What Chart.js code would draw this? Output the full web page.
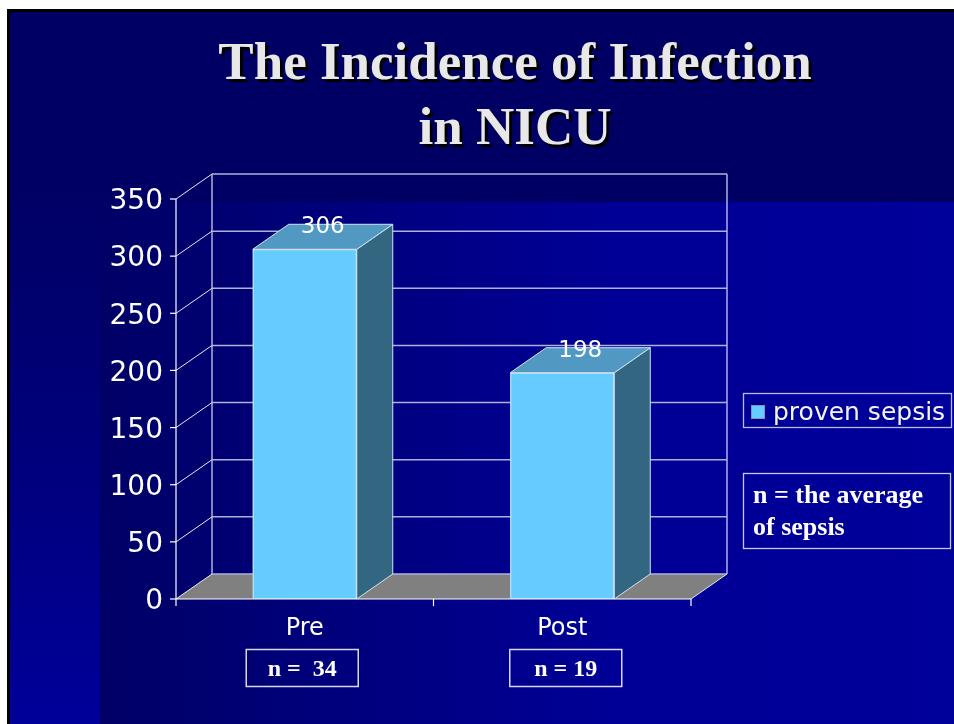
<!DOCTYPE html>
<html>
<head>
<meta charset="utf-8">
<script src="https://cdn.jsdelivr.net/npm/chart.js@4/dist/chart.umd.min.js"></script>
<style>
html,body{margin:0;padding:0;background:#ffffff;width:954px;height:724px;overflow:hidden}
#frame{position:absolute;left:7px;top:9px;width:947px;height:715px;background:#000000}
#navy{position:absolute;left:10px;top:12px;width:944px;height:712px;background:#000064}
#leftStrip{position:absolute;left:10px;top:202px;width:90px;height:522px;background:linear-gradient(to bottom,#000066 0%,#00007a 45%,#00009a 100%)}
#rightPanel{position:absolute;left:100px;top:202px;width:854px;height:522px;background:linear-gradient(to right,#000066 0%,#000096 60%,#00009a 100%)}
#wrap{position:absolute;left:0;top:0;width:954px;height:724px}
canvas{display:block}
</style>
</head>
<body>
<div id="frame"></div>
<div id="navy"></div>
<div id="leftStrip"></div>
<div id="rightPanel"></div>
<div id="wrap"><canvas id="c" width="954" height="724"></canvas></div>
<script>
// ---- data ----
const categories = ['Pre', 'Post'];
const provenSepsis = [306, 198];
const seriesLabel = 'proven sepsis';
const yTickValues = [0, 50, 100, 150, 200, 250, 300, 350];
const sampleSizeLabels = ['n =  34', 'n = 19'];
const titleLines = ['The Incidence of Infection', 'in NICU'];
const noteLines = ['n = the average', 'of sepsis'];

// ---- styles ----
const DX = 36, DY = -25;
const FRONT = '#66ccff', TOPC = '#5199c2', SIDE = '#336680', EDGE = '#d0e4f0';
const GRID = '#b0b0dc';
const SANS = '"DejaVu Sans", Verdana, sans-serif';
const SERIF = '"Liberation Serif", "Times New Roman", serif';
const BOX_SHIFT = [-2.5, 3.5];

function line(ctx, x1, y1, x2, y2) {
  ctx.beginPath(); ctx.moveTo(x1, y1); ctx.lineTo(x2, y2); ctx.stroke();
}
function poly(ctx, pts, fill, stroke) {
  ctx.beginPath();
  pts.forEach((p, i) => i ? ctx.lineTo(p[0], p[1]) : ctx.moveTo(p[0], p[1]));
  ctx.closePath();
  ctx.fillStyle = fill; ctx.fill();
  if (stroke) { ctx.strokeStyle = stroke; ctx.lineWidth = 1; ctx.stroke(); }
}

const threeD = {
  id: 'threeD',
  beforeDatasetsDraw(chart) {
    const { ctx, chartArea: a, scales: { x, y } } = chart;
    const b = y.getPixelForValue(yTickValues[0]);
    const t = y.getPixelForValue(yTickValues[yTickValues.length - 1]);
    ctx.save();
    // floor
    poly(ctx, [[a.left, b], [a.right, b], [a.right + DX, b + DY], [a.left + DX, b + DY]], '#808080');
    // back wall grid
    ctx.strokeStyle = GRID; ctx.lineWidth = 1.5;
    yTickValues.forEach(v => {
      const p = y.getPixelForValue(v);
      line(ctx, a.left + DX, p + DY, a.right + DX, p + DY);
    });
    line(ctx, a.left + DX, t + DY, a.left + DX, b + DY);
    line(ctx, a.right + DX, t + DY, a.right + DX, b + DY);
    // side wall diagonals
    ctx.strokeStyle = '#e8e8f8'; ctx.lineWidth = 1;
    yTickValues.forEach(v => {
      const p = y.getPixelForValue(v);
      line(ctx, a.left, p, a.left + DX, p + DY);
    });
    line(ctx, a.right, b, a.right + DX, b + DY);
    // front axes
    ctx.strokeStyle = '#ffffff'; ctx.lineWidth = 1.2;
    line(ctx, a.left, t, a.left, b);
    line(ctx, a.left, b, a.right, b);
    // y tick marks
    yTickValues.forEach(v => {
      const p = y.getPixelForValue(v);
      line(ctx, a.left - 6, p, a.left, p);
    });
    // x tick marks at category boundaries
    for (let i = 0; i <= categories.length; i++) {
      const px = x.getPixelForValue(i - 0.5);
      line(ctx, px, b, px, b + 7);
    }
    ctx.restore();
  },
  afterDatasetsDraw(chart) {
    const { ctx } = chart;
    const meta = chart.getDatasetMeta(0);
    ctx.save();
    meta.data.forEach((el, i) => {
      const l = el.x - el.width / 2, r = el.x + el.width / 2, t = el.y, bo = el.base;
      poly(ctx, [[r, t], [r + DX, t + DY], [r + DX, bo + DY], [r, bo]], SIDE, EDGE);
      poly(ctx, [[l, t], [l + DX, t + DY], [r + DX, t + DY], [r, t]], TOPC, EDGE);
      ctx.strokeStyle = EDGE; ctx.lineWidth = 1;
      ctx.strokeRect(l + 0.5, t + 0.5, r - l - 1, bo - t - 1);
      ctx.fillStyle = '#ffffff';
      ctx.font = '23px ' + SANS;
      ctx.textAlign = 'center'; ctx.textBaseline = 'middle';
      ctx.fillText(String(provenSepsis[i]), el.x + DX / 2, t + DY + 3);
    });
    ctx.restore();
  },
  afterDraw(chart) {
    const { ctx, scales: { x } } = chart;
    ctx.save();
    // title with shadow
    ctx.font = 'bold 53px ' + SERIF;
    ctx.textAlign = 'center'; ctx.textBaseline = 'alphabetic';
    const tb = [79, 144];
    titleLines.forEach((s, i) => {
      ctx.fillStyle = '#000000'; ctx.fillText(s, 518, tb[i] + 3);
      ctx.fillStyle = '#e8e8e8'; ctx.fillText(s, 515, tb[i]);
    });
    // sample-size boxes
    ctx.font = 'bold 24px ' + SERIF;
    sampleSizeLabels.forEach((s, i) => {
      const cx = x.getPixelForValue(i) + BOX_SHIFT[i];
      ctx.strokeStyle = '#d8d8ec'; ctx.lineWidth = 1.5;
      ctx.strokeRect(cx - 56, 649.5, 112, 37);
      ctx.fillStyle = '#ffffff';
      ctx.textAlign = 'center'; ctx.textBaseline = 'alphabetic';
      ctx.fillText(s, cx, 676);
    });
    // legend
    const ds = chart.data.datasets[0];
    ctx.strokeStyle = '#b8b8e0'; ctx.lineWidth = 1.3;
    ctx.strokeRect(743.5, 393.5, 208, 34);
    ctx.fillStyle = ds.backgroundColor; ctx.fillRect(751, 405, 14, 14);
    ctx.strokeStyle = '#9090a8'; ctx.lineWidth = 1; ctx.strokeRect(751.5, 405.5, 13, 13);
    ctx.fillStyle = '#f4f4f4'; ctx.font = '25px ' + SANS;
    ctx.textAlign = 'left'; ctx.textBaseline = 'alphabetic';
    ctx.fillText(ds.label, 773, 420);
    // note box
    ctx.strokeStyle = '#c8c8e4'; ctx.lineWidth = 1.3;
    ctx.strokeRect(743.5, 473.5, 207, 75);
    ctx.fillStyle = '#ffffff'; ctx.font = 'bold 26px ' + SERIF;
    ctx.fillText(noteLines[0], 753, 503);
    ctx.fillText(noteLines[1], 753, 535);
    ctx.restore();
  }
};

new Chart(document.getElementById('c'), {
  type: 'bar',
  data: {
    labels: categories,
    datasets: [{
      label: seriesLabel,
      data: provenSepsis,
      backgroundColor: FRONT,
      borderWidth: 0,
      barPercentage: 0.404,
      categoryPercentage: 1.0
    }]
  },
  options: {
    responsive: false,
    animation: false,
    events: [],
    layout: { padding: { left: 10, right: 263, top: 199, bottom: 65 } },
    plugins: { legend: { display: false }, title: { display: false }, tooltip: { enabled: false } },
    scales: {
      x: {
        grid: { display: false, drawTicks: false },
        border: { display: false },
        ticks: { color: '#ffffff', font: { family: SANS, size: 24 }, padding: 15 },
        afterFit(s) { s.height = 60; }
      },
      y: {
        min: 0, max: 350,
        grid: { display: false, drawTicks: false },
        border: { display: false },
        ticks: { color: '#ffffff', font: { family: SANS, size: 28 }, padding: 13, labelOffset: 3 },
        afterBuildTicks(s) { s.ticks = yTickValues.map(v => ({ value: v })); },
        afterFit(s) { s.width = 166; }
      }
    }
  },
  plugins: [threeD]
});
</script>
</body>
</html>
